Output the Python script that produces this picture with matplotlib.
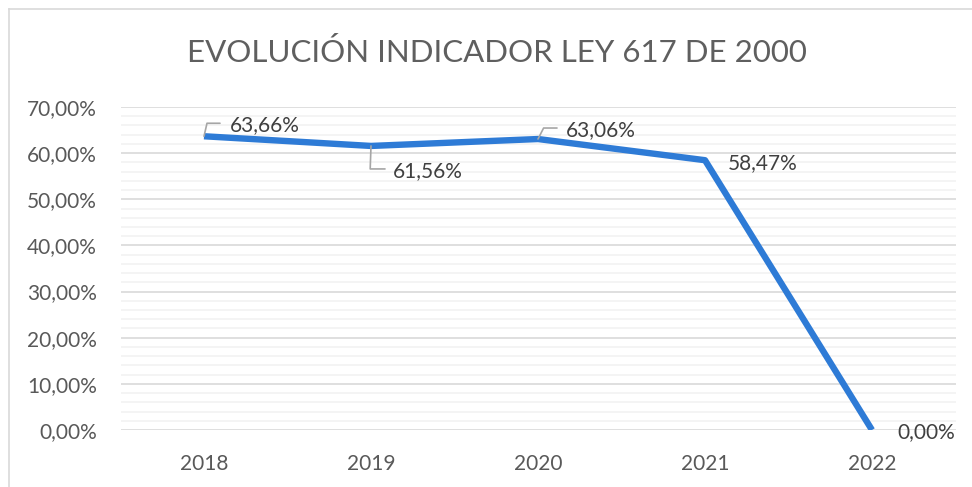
import matplotlib
matplotlib.use("Agg")
import matplotlib.pyplot as plt
from matplotlib.lines import Line2D
from matplotlib.ticker import FuncFormatter, MultipleLocator

years = ["2018", "2019", "2020", "2021", "2022"]
indicator = [63.66, 61.56, 63.06, 58.47, 0.00]
value_labels = ["63,66%", "61,56%", "63,06%", "58,47%", "0,00%"]

# label placement relative to each point (px): text offset, leader elbow, leader angle
label_offsets = [(26, 11), (22, -25), (28, 9), (23, -3), (25, -2)]
leaders = [((16, 13), 77), ((14, -23), 88), ((19, 11), 63), None, None]

plt.rcParams["font.family"] = ["Lato", "DejaVu Sans"]

W, H, DPI = 972, 487, 100
fig = plt.figure(figsize=(W / DPI, H / DPI), dpi=DPI)
px = 72 / DPI

ax = fig.add_axes([120.5 / W, 1 - 430 / H, 835 / W, 323 / H])
x = range(len(years))

ax.set_ylim(0, 70)
ax.set_xlim(-0.5, len(years) - 0.5)
ax.yaxis.set_major_locator(MultipleLocator(10))
ax.yaxis.set_minor_locator(MultipleLocator(2))
ax.yaxis.set_major_formatter(FuncFormatter(lambda v, _: f"{v:.2f}%".replace(".", ",")))
ax.grid(which="minor", axis="y", color="#f2f2f2", linewidth=1.2)
ax.grid(which="major", axis="y", color="#d9d9d9", linewidth=1.2)
ax.set_axisbelow(True)
for side in ax.spines.values():
    side.set_visible(False)
ax.tick_params(axis="both", which="both", length=0, labelsize=15, labelcolor="#595959")
ax.tick_params(axis="y", pad=17)
ax.tick_params(axis="x", pad=17)
ax.set_xticks(list(x))
ax.set_xticklabels(years)

ax.plot(x, indicator, color="#2e7bd6", linewidth=4.6, solid_capstyle="butt", zorder=3)

for i, (val, text) in enumerate(zip(indicator, value_labels)):
    dx, dy = label_offsets[i]
    ax.annotate(text, xy=(i, val), xytext=(dx * px, dy * px), textcoords="offset points",
                ha="left", va="center", fontsize=15, color="#404040", zorder=4)
    if leaders[i] is not None:
        (lx, ly), ang = leaders[i]
        ax.annotate("", xy=(i, val), xytext=(lx * px, ly * px), textcoords="offset points",
                    arrowprops=dict(arrowstyle="-", color="#a6a6a6", linewidth=1.2,
                                    shrinkA=0, shrinkB=0,
                                    connectionstyle=f"angle,angleA=0,angleB={ang},rad=0"),
                    zorder=4)

fig.text(497 / W, 1 - 53 / H, "EVOLUCIÓN INDICADOR LEY 617 DE 2000", ha="center", va="center",
         fontsize=22.5, color="#5f5f5f")

# chart frame
fig.add_artist(Line2D([8.5 / W, 8.5 / W], [0, 1 - 8.5 / H], color="#d9d9d9", linewidth=1.2))
fig.add_artist(Line2D([8.5 / W, 1], [1 - 8.5 / H, 1 - 8.5 / H], color="#d9d9d9", linewidth=1.2))

fig.savefig("out.png", dpi=DPI, facecolor="white")
